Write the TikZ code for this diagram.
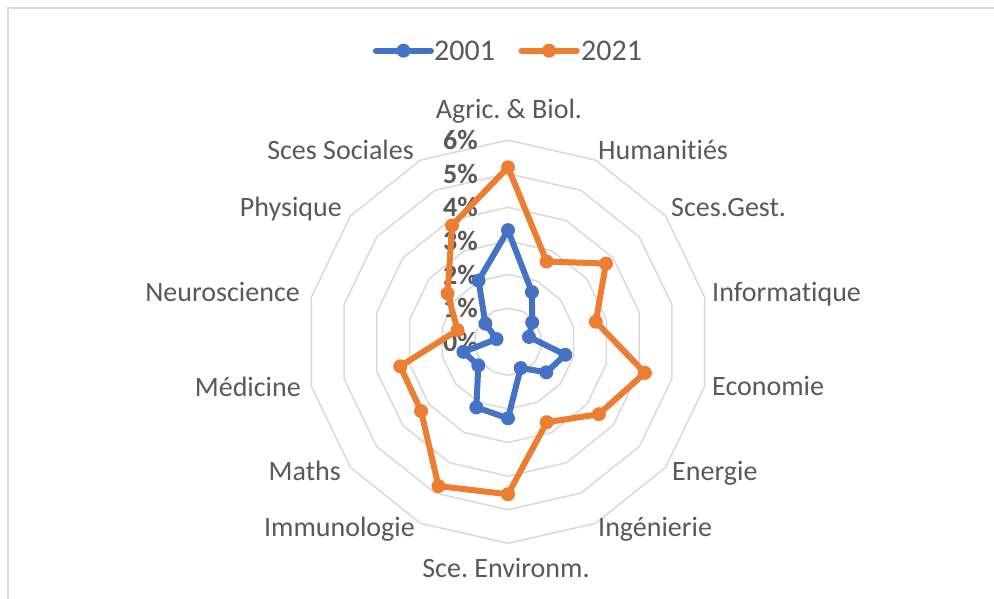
\documentclass[tikz,border=0pt]{standalone}
\usepackage{fontspec}
\setmainfont{Carlito}[Ligatures=NoCommon]
\definecolor{txt}{HTML}{595959}
\definecolor{gridc}{HTML}{D9D9D9}
\definecolor{sblue}{HTML}{4472C4}
\definecolor{sorange}{HTML}{ED7D31}
\begin{document}
\frenchspacing
\begin{tikzpicture}[x=1pt,y=1pt,
  catlabel/.style={text=txt,font=\fontsize{28}{30}\selectfont,inner sep=0pt},
  axlabel/.style={text=txt,font=\fontsize{28}{30}\selectfont\bfseries,inner sep=0pt,anchor=east},
  leglabel/.style={text=txt,font=\fontsize{30}{32}\selectfont,inner sep=0pt,anchor=west},
  serline/.style={line width=6pt,line join=round,line cap=round},
  dotmark/.style={circle,inner sep=0pt,minimum size=14pt},
  gridline/.style={draw=gridc,line width=1.5pt,line join=round},
  framestyle/.style={draw=gridc,line width=2pt}]
\useasboundingbox (-508,-256.3) rectangle (486,341.7);
\fill[white] (-508,-256.3) rectangle (486,341.7);
% chart frame (only top and left edges are in view)
\draw[framestyle] (-499.5,-262) -- (-499.5,333.2) -- (492,333.2);
% grid polygons
\foreach \r in {1,...,6}{
  \draw[gridline] (90:\r*33.6) \foreach \k in {1,...,13}{ -- (90-\k*360/14:\r*33.6)} -- cycle;
}
% axis labels
\foreach \v in {0,...,6}{
  \node[axlabel] (ax\v) at (-30,\v*33.6) {\v\%};
}
% data 2001
\foreach \v [count=\k from 0] in {3.32,1.64,0.92,0.64,1.75,1.46,0.87,2.28,2.17,1.13,1.36,0.35,0.86,2.02}{
  \coordinate (b\k) at (90-\k*360/14:\v*33.6);
}
% data 2021
\foreach \v [count=\k from 0] in {5.19,2.65,3.73,2.68,4.18,3.46,2.66,4.54,4.77,3.31,3.29,1.54,2.30,3.84}{
  \coordinate (o\k) at (90-\k*360/14:\v*33.6);
}
\draw[serline,sblue] (b0) \foreach \k in {1,...,13}{ -- (b\k)} -- cycle;
\foreach \k in {0,...,13}{ \node[dotmark,fill=sblue] (bm\k) at (b\k) {}; }
\draw[serline,sorange] (o0) \foreach \k in {1,...,13}{ -- (o\k)} -- cycle;
\foreach \k in {0,...,13}{ \node[dotmark,fill=sorange] (om\k) at (o\k) {}; }
% category labels
\node[catlabel,anchor=base] (lab0) at (1,223.7) {Agric. \& Biol.};
\node[catlabel,anchor=base west] (lab1) at (90,182.7) {Humanitiés};
\node[catlabel,anchor=base west] (lab2) at (163,125) {Sces.Gest.};
\node[catlabel,anchor=base west] (lab3) at (204,40) {Informatique};
\node[catlabel,anchor=base west] (lab4) at (204,-54) {Economie};
\node[catlabel,anchor=base west] (lab5) at (164,-138.3) {Energie};
\node[catlabel,anchor=base west] (lab6) at (90,-194.3) {Ingénierie};
\node[catlabel,anchor=base] (lab7) at (-2,-235.6) {Sce. Environm.};
\node[catlabel,anchor=base east] (lab8) at (-93,-194.3) {Immunologie};
\node[catlabel,anchor=base east] (lab9) at (-167,-138.3) {Maths};
\node[catlabel,anchor=base east] (lab10) at (-207,-54.3) {Médicine};
\node[catlabel,anchor=base east] (lab11) at (-208,40) {Neuroscience};
\node[catlabel,anchor=base east] (lab12) at (-166,125) {Physique};
\node[catlabel,anchor=base east] (lab13) at (-94,182.7) {Sces Sociales};
% legend
\coordinate (lb1) at (-132,291);
\coordinate (lb2) at (-77,291);
\draw[serline,sblue] (lb1) -- (lb2);
\node[dotmark,fill=sblue] (lbm) at (-104.5,291) {};
\node[leglabel] (lbt) at (-74,291) {2001};
\coordinate (lo1) at (13.5,291);
\coordinate (lo2) at (68.7,291);
\draw[serline,sorange] (lo1) -- (lo2);
\node[dotmark,fill=sorange] (lom) at (41,291) {};
\node[leglabel] (lot) at (73,291) {2021};
\end{tikzpicture}
\end{document}
